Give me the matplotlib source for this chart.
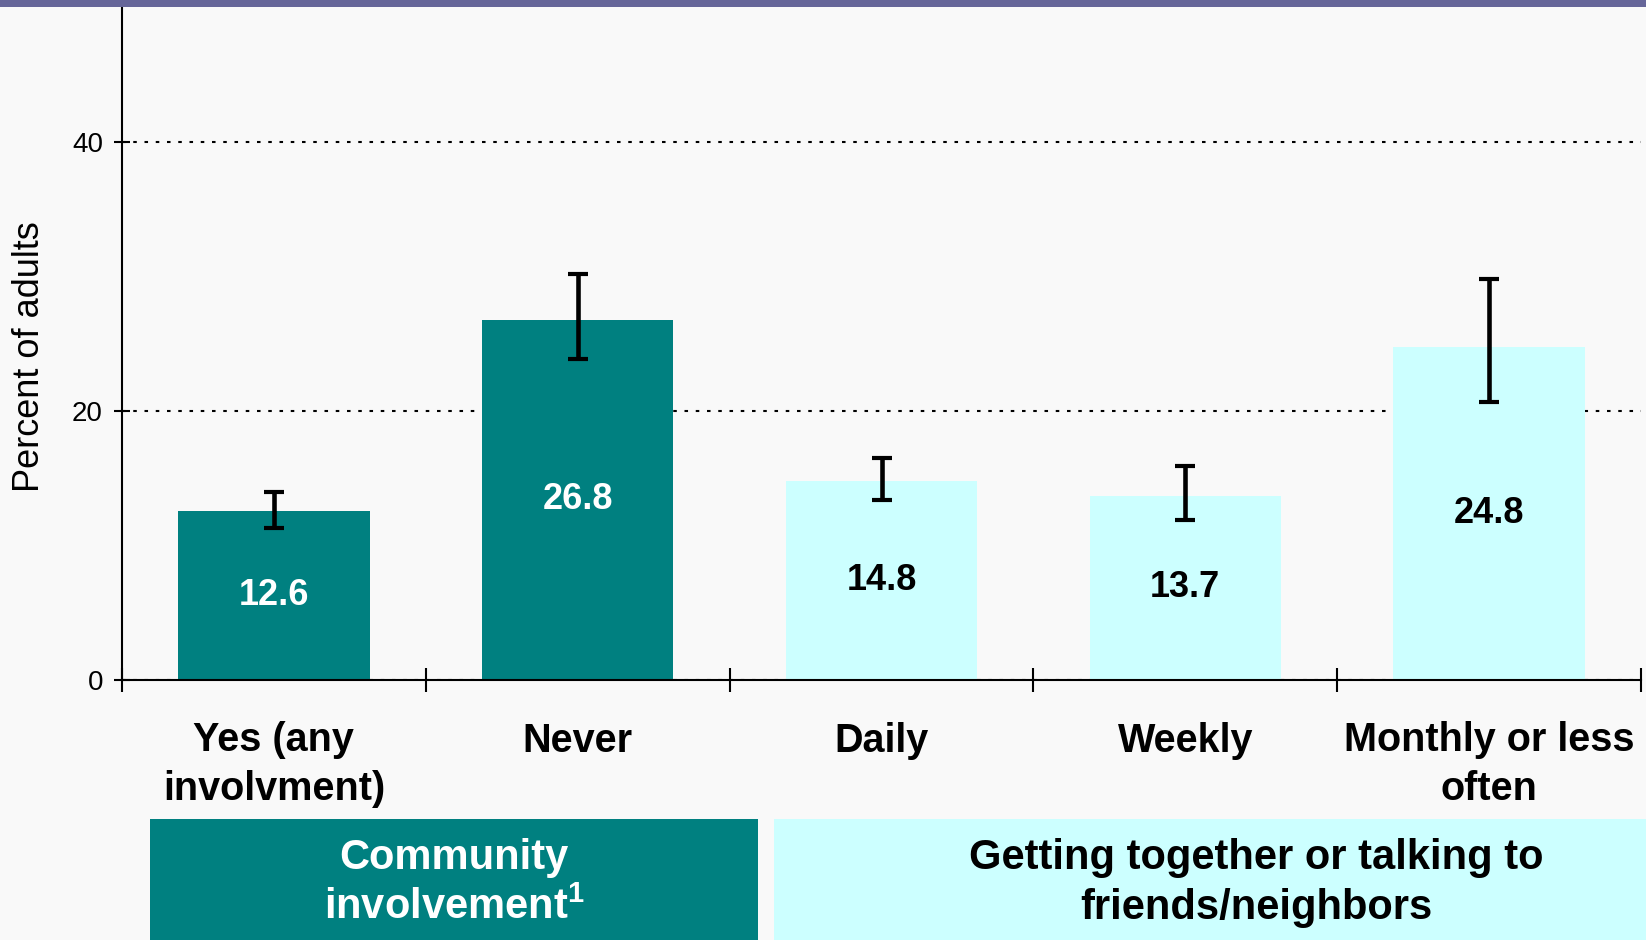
import matplotlib
matplotlib.use("Agg")
import matplotlib.pyplot as plt
from matplotlib.patches import Rectangle

plt.rcParams['font.family'] = ['Liberation Sans', 'DejaVu Sans']
plt.rcParams['mathtext.fontset'] = 'custom'
plt.rcParams['mathtext.bf'] = 'Liberation Sans:bold'
plt.rcParams['mathtext.rm'] = 'Liberation Sans'

# data
categories = ["Yes (any\ninvolvment)", "Never", "Daily", "Weekly", "Monthly or less\noften"]
values = [12.6, 26.8, 14.8, 13.7, 24.8]
ci_low = [11.3, 23.9, 13.4, 11.9, 20.7]
ci_high = [14.0, 30.2, 16.5, 15.9, 29.8]
groups = ["Community\ninvolvement$^{\\mathbf{1}}$", "Getting together or talking to\nfriends/neighbors"]
y_ticks = [0, 20, 40]

TEAL = "#008080"
CYAN = "#ccffff"
BG = "#f9f9f9"
bar_colors = [TEAL, TEAL, CYAN, CYAN, CYAN]
label_colors = ["white", "white", "black", "black", "black"]

W, H = 1646, 940
fig = plt.figure(figsize=(W / 100, H / 100), dpi=100, facecolor=BG)

# axes placed in pixel terms: x 122..1641, y 8..680 (from top)
ax = fig.add_axes([122 / W, (H - 680) / H, (1641 - 122) / W, 672 / H])
ax.set_facecolor(BG)

x = [i + 0.5 for i in range(len(values))]
yerr = [[v - lo for v, lo in zip(values, ci_low)],
        [hi - v for v, hi in zip(values, ci_high)]]

ax.bar(x, values, width=0.63, color=bar_colors, zorder=2)
ax.errorbar(x, values, yerr=yerr, fmt='none', ecolor='black',
            elinewidth=3.3, capsize=7.5, capthick=3, zorder=3)

for xi, v, c in zip(x, values, label_colors):
    ax.text(xi, v / 2, f"{v:.1f}", ha='center', va='center',
            fontsize=26, fontweight='bold', color=c, zorder=4)

ax.set_xlim(0, 5)
ax.set_ylim(0, 50)

# axis styling
for side in ('top', 'right'):
    ax.spines[side].set_visible(False)
for side in ('left', 'bottom'):
    ax.spines[side].set_linewidth(1.5)
    ax.spines[side].set_color('black')

ax.set_yticks(y_ticks)
ax.tick_params(axis='y', direction='inout', length=11.5, width=1.5,
               pad=8, labelsize=20)
ax.set_xticks(range(6))
ax.set_xticklabels([])
ax.tick_params(axis='x', direction='inout', length=17, width=1.5)

ax.set_axisbelow(True)
ax.yaxis.grid(True, color='black', linewidth=1.5, linestyle=(0, (1.7, 3.7)))

# category labels under the axis; anchor is the baseline of the last line
for xi, cat in zip(x, categories):
    nlines = cat.count("\n") + 1
    base_px = 72 + 48.3 * (nlines - 1)
    ax.text(xi, -base_px / 672, cat, transform=ax.get_xaxis_transform(),
            ha='center', va='baseline', fontsize=28.5, fontweight='bold',
            linespacing=1.38)

fig.text(30 / W, 1 - 357 / H, "Percent of adults", rotation=90,
         ha='center', va='center', fontsize=26)

# top band
fig.patches.append(Rectangle((0, 1 - 7 / H), 1, 7 / H, transform=fig.transFigure,
                             facecolor="#666699", edgecolor='none'))

# group boxes
fig.patches.append(Rectangle((150 / W, 0), (758 - 150) / W, (940 - 819) / H,
                             transform=fig.transFigure, facecolor=TEAL, edgecolor='none'))
fig.patches.append(Rectangle((774 / W, 0), 1 - 774 / W, (940 - 819) / H,
                             transform=fig.transFigure, facecolor=CYAN, edgecolor='none'))
fig.text(454 / W, 1 - 883 / H, groups[0], ha='center', va='center',
         fontsize=30, fontweight='bold', color='white', linespacing=1.33)
fig.text(1256 / W, 1 - 883 / H, groups[1], ha='center', va='center',
         fontsize=30, fontweight='bold', color='black', linespacing=1.33)

fig.savefig("out.png", dpi=100, facecolor=BG)
